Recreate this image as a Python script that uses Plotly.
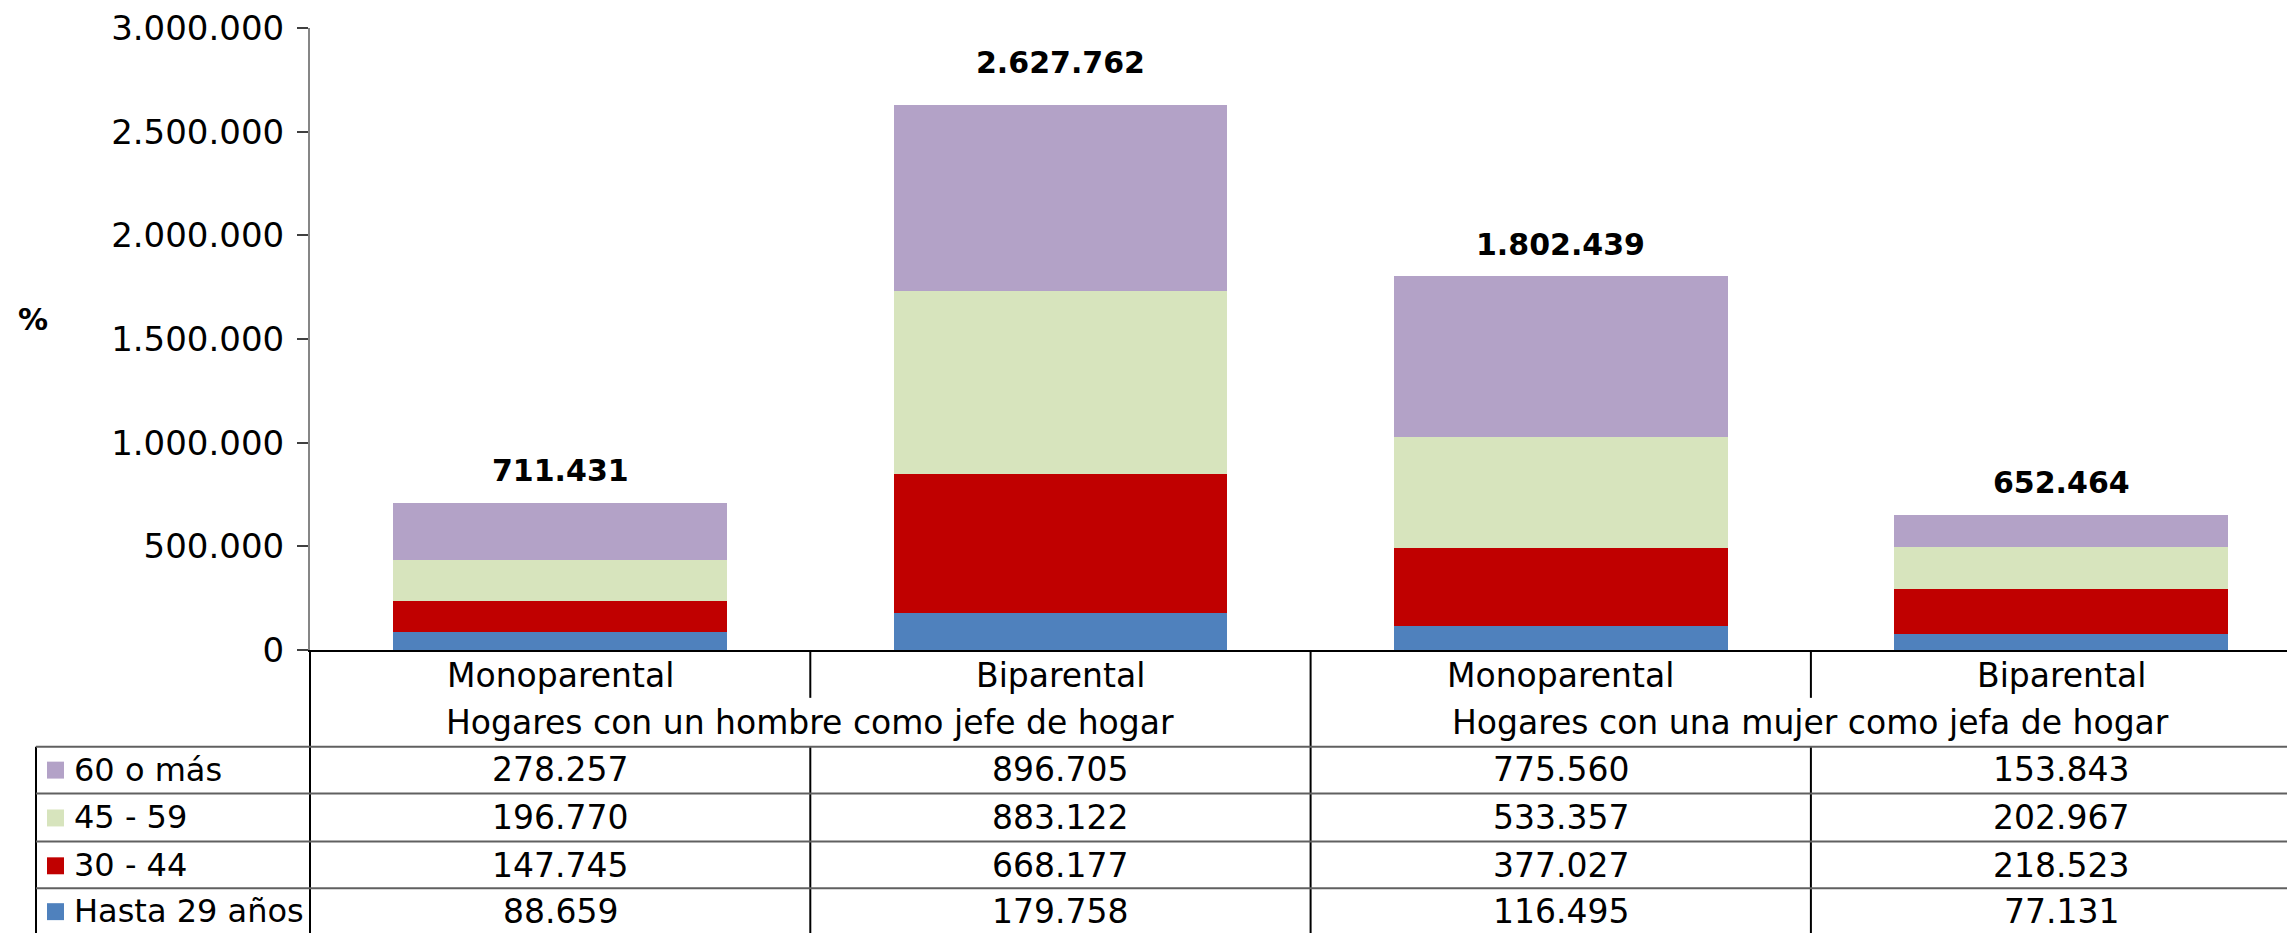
import plotly.graph_objects as go

# datos
categorias = ['Monoparental', 'Biparental', 'Monoparental', 'Biparental']
grupos = ['Hogares con un hombre como jefe de hogar', 'Hogares con una mujer como jefa de hogar']
hasta_29 = [88659, 179758, 116495, 77131]
de_30_44 = [147745, 668177, 377027, 218523]
de_45_59 = [196770, 883122, 533357, 202967]
de_60_mas = [278257, 896705, 775560, 153843]
y_ticks = [0, 500000, 1000000, 1500000, 2000000, 2500000, 3000000]

series = [
    ('Hasta 29 años', hasta_29, '#4F81BD'),
    ('30 - 44', de_30_44, '#C00000'),
    ('45 - 59', de_45_59, '#D7E4BD'),
    ('60 o más', de_60_mas, '#B3A2C7'),
]

OFF = 8  # margen del body de la pagina
W, H = 2295 - OFF, 933 - OFF
# area del grafico en pixeles de pagina
L, R, T, B = 310, 2295, 26, 650
CAT_W = 500.3
FONT = 'DejaVu Sans'
FS = 33


def fmt(v):
    return f"{v:,}".replace(',', '.')


def xp(px):
    return (px - L) / (R - L)


def yp(py):
    return (B - py) / (B - T)


def cat_px(d):
    return L + (d + 0.5) * CAT_W


def txt(x, y, text, xref='x', size=FS, xanchor='center'):
    return dict(x=x, y=y, xref=xref, yref='paper', text=text, showarrow=False,
                xanchor=xanchor, yanchor='middle', font=dict(family=FONT, size=size, color='black'))


x = list(range(len(categorias)))
fig = go.Figure()
for name, vals, col in series:
    fig.add_trace(go.Bar(x=x, y=vals, name=name, marker_color=col,
                         marker_line_width=0, width=0.667, showlegend=False))

totales = [sum(v) for v in zip(hasta_29, de_30_44, de_45_59, de_60_mas)]
ann = []
for i, t in enumerate(totales):
    ann.append(dict(x=i, y=t, xref='x', yref='y', text=f"<b>{fmt(t)}</b>", showarrow=False,
                    yanchor='middle', yshift=43 if t == max(totales) else 32,
                    font=dict(family=FONT, size=30, color='black')))

# etiquetas de categoria y grupo
for i, c in enumerate(categorias):
    ann.append(txt(i, yp(676), c))
for g, name in enumerate(grupos):
    ann.append(txt(2 * g + 0.5, yp(723), name))

# tabla de datos
row_y = [770, 818, 866, 912]
shapes = []
for r, (name, vals, col) in enumerate(reversed(series)):
    cy = row_y[r]
    for i, v in enumerate(vals):
        ann.append(txt(i, yp(cy), fmt(v)))
    ann.append(txt(xp(72), yp(cy), name, xref='paper', xanchor='left', size=32))
    shapes.append(dict(type='rect', xref='paper', yref='paper', x0=xp(47), x1=xp(64),
                       y0=yp(cy - 8), y1=yp(cy + 9), fillcolor=col, line_width=0))

ann.append(txt(xp(33), yp(318), '<b>%</b>', xref='paper', size=30))

line_black = dict(color='black', width=2)
line_gray = dict(color='#606060', width=2)
# eje y prolongado bajo el grafico
shapes.append(dict(type='line', xref='paper', yref='paper', x0=0, x1=0, y0=yp(650), y1=yp(940), line=line_black))
for i in range(len(categorias) - 1):
    xx = xp(cat_px(i + 0.5))
    if i == 1:
        shapes.append(dict(type='line', xref='paper', yref='paper', x0=xx, x1=xx, y0=yp(650), y1=yp(940), line=line_black))
    else:
        shapes.append(dict(type='line', xref='paper', yref='paper', x0=xx, x1=xx, y0=yp(650), y1=yp(698), line=line_black))
        shapes.append(dict(type='line', xref='paper', yref='paper', x0=xx, x1=xx, y0=yp(747), y1=yp(940), line=line_black))
shapes.append(dict(type='line', xref='paper', yref='paper', x0=xp(36), x1=xp(36), y0=yp(747), y1=yp(940), line=line_black))
for hy in [747, 794, 842, 889]:
    shapes.append(dict(type='line', xref='paper', yref='paper', x0=xp(36), x1=1, y0=yp(hy), y1=yp(hy), line=line_gray))

fig.update_layout(
    width=W, height=H, autosize=False,
    margin=dict(l=L - OFF, r=2295 - R, t=T - OFF, b=933 - B, pad=0),
    barmode='stack',
    plot_bgcolor='white', paper_bgcolor='white',
    separators=',.',
    font=dict(family=FONT, size=FS, color='black'),
    annotations=ann, shapes=shapes,
    xaxis=dict(range=[-0.5, -0.5 + (R - L) / CAT_W], showticklabels=False, ticks='',
               showline=True, linecolor='black', linewidth=2, showgrid=False, zeroline=False),
    yaxis=dict(range=[0, 3000000], tickvals=y_ticks, tickformat=',d', showgrid=False, zeroline=False,
               showline=True, linecolor='#868686', linewidth=2, ticks='outside', ticklen=11,
               tickcolor='#404040', tickwidth=1.5, ticklabelstandoff=6, ticklabeloverflow='allow',
               tickfont=dict(family=FONT, size=34, color='black')),
)

fig.write_html("out.html")
